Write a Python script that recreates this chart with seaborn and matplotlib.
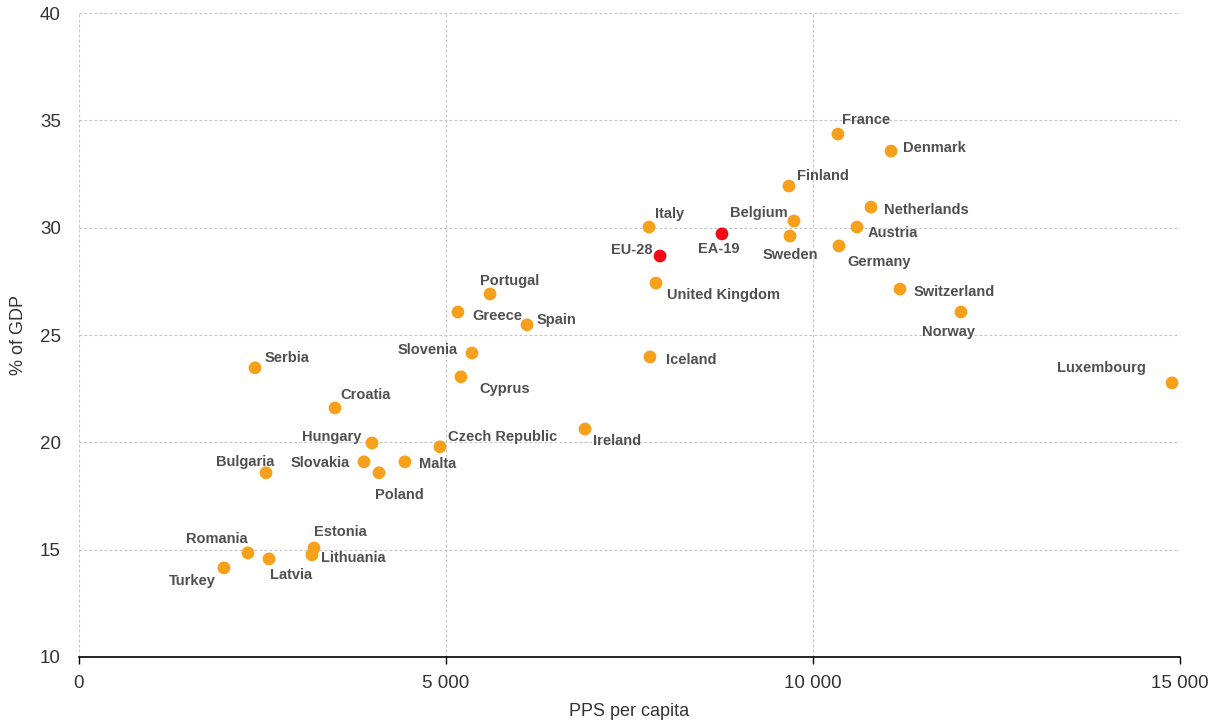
import pandas as pd
import matplotlib.pyplot as plt
import seaborn as sns

sns.set_theme(style="white")
plt.rcParams['font.family'] = ['Liberation Sans', 'DejaVu Sans']

# data: PPS per capita (x) and % of GDP (y)
countries = ['France', 'Denmark', 'Finland', 'Netherlands', 'Belgium', 'Austria', 'Italy',
             'EA-19', 'Sweden', 'Germany', 'EU-28', 'United Kingdom', 'Switzerland',
             'Portugal', 'Greece', 'Norway', 'Spain', 'Slovenia', 'Iceland', 'Serbia',
             'Cyprus', 'Luxembourg', 'Croatia', 'Ireland', 'Hungary', 'Czech Republic',
             'Slovakia', 'Malta', 'Poland', 'Bulgaria', 'Estonia', 'Romania', 'Lithuania',
             'Latvia', 'Turkey']
pps = [10340, 11063, 9673, 10790, 9741, 10600, 7766,
       8760, 9687, 10354, 7916, 7861, 11185,
       5600, 5163, 12016, 6104, 5354, 7779, 2398,
       5204, 14891, 3488, 6894, 3992, 4918,
       3883, 4441, 4087, 2548, 3202, 2302, 3174,
       2589, 1975]
gdp_share = [34.36, 33.57, 31.94, 30.96, 30.31, 30.03, 30.03,
             29.71, 29.61, 29.15, 28.68, 27.42, 27.14,
             26.91, 26.07, 26.07, 25.47, 24.16, 23.98, 23.47,
             23.05, 22.77, 21.60, 20.62, 19.97, 19.79,
             19.09, 19.09, 18.58, 18.58, 15.08, 14.85, 14.76,
             14.57, 14.15]
aggregates = ['EU-28', 'EA-19']

# label placement: (dx, dy in pixels, horizontal alignment)
label_pos = {
    'France': (4, -14, 'left'), 'Denmark': (12, -3, 'left'), 'Finland': (8, -10, 'left'),
    'Netherlands': (13, 3, 'left'), 'Belgium': (-6, -8, 'right'), 'Austria': (11, 6, 'left'),
    'Italy': (6, -13, 'left'), 'EA-19': (-3, 15, 'center'), 'Sweden': (0, 19, 'center'),
    'Germany': (8, 16, 'left'), 'EU-28': (-8, -6, 'right'), 'United Kingdom': (11, 12, 'left'),
    'Switzerland': (14, 3, 'left'), 'Portugal': (-10, -13, 'left'), 'Greece': (14, 4, 'left'),
    'Norway': (-12, 20, 'center'), 'Spain': (10, -5, 'left'), 'Slovenia': (-14, -3, 'right'),
    'Iceland': (16, 3, 'left'), 'Serbia': (10, -10, 'left'), 'Cyprus': (18, 12, 'left'),
    'Luxembourg': (-26, -15, 'right'), 'Croatia': (5, -13, 'left'), 'Ireland': (8, 12, 'left'),
    'Hungary': (-11, -6, 'right'), 'Czech Republic': (8, -10, 'left'),
    'Slovakia': (-14, 1, 'right'), 'Malta': (14, 2, 'left'), 'Poland': (-4, 22, 'left'),
    'Bulgaria': (8, -11, 'right'), 'Estonia': (0, -16, 'left'), 'Romania': (0, -14, 'right'),
    'Lithuania': (9, 3, 'left'), 'Latvia': (1, 16, 'left'), 'Turkey': (-8, 13, 'right'),
}

df = pd.DataFrame({'country': countries, 'pps': pps, 'gdp': gdp_share})
df['group'] = df['country'].apply(lambda c: 'agg' if c in aggregates else 'country')

fig = plt.figure(figsize=(12.17, 7.23), dpi=100)
ax = fig.add_axes([0.0649, 0.0913, 0.9047, 0.8907])

sns.scatterplot(data=df, x='pps', y='gdp', hue='group',
                palette={'country': '#F7A01B', 'agg': '#F20A14'},
                s=85, edgecolor='none', legend=False, ax=ax, zorder=3)

for _, r in df.iterrows():
    dx, dy, ha = label_pos[r['country']]
    ax.annotate(r['country'], (r['pps'], r['gdp']), xytext=(dx, -dy),
                textcoords='offset pixels', ha=ha, va='center',
                fontsize=10.5, fontweight='bold', color='#505050', zorder=4)

ax.set_xlim(0, 15000)
ax.set_ylim(10, 40)
ax.set_xticks([0, 5000, 10000, 15000])
ax.set_xticklabels(['0', '5 000', '10 000', '15 000'])
ax.set_yticks(range(10, 41, 5))

ax.grid(True, linestyle=(0, (2.5, 2)), color='#C4C4C4', linewidth=0.8)
for s in ['left', 'right', 'top']:
    ax.spines[s].set_visible(False)
ax.spines['bottom'].set_color('black')
ax.spines['bottom'].set_linewidth(1.2)
ax.spines['bottom'].set_zorder(5)

ax.tick_params(axis='x', bottom=True, length=5, width=1, color='black',
               labelsize=13.5, labelcolor='#333333', pad=8)
ax.tick_params(axis='y', left=False, labelsize=13.5, labelcolor='#333333', pad=7)

ax.set_xlabel('PPS per capita', fontsize=13, color='#333333', labelpad=8)
ax.set_ylabel('% of GDP', fontsize=13, color='#333333', labelpad=9)

fig.savefig('out.png', dpi=100)
